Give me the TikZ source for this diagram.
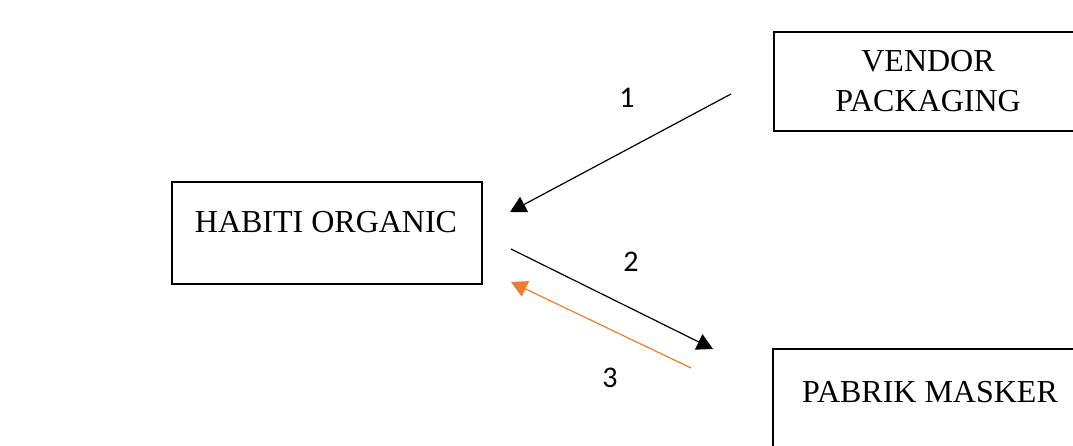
\documentclass[tikz,border=0pt]{standalone}
\usepackage{fontspec}
\setmainfont{Liberation Serif}
\newfontfamily\digitfont{Carlito}
\usetikzlibrary{arrows.meta}
\definecolor{arroworange}{HTML}{ED7D31}
\begin{document}
\begin{tikzpicture}[x=1pt,y=-1pt,
  boxnode/.style={draw=black,line width=2.8pt,fill=white,rectangle,inner sep=0pt},
  boxtext/.style={font=\fontsize{32}{40}\selectfont,inner sep=0pt,anchor=base,align=center},
  numlabel/.style={fill=white,inner sep=0pt,font=\digitfont\fontsize{30}{34}\selectfont},
  flow/.style={line width=1.2pt,-{Triangle[length=16pt,width=17pt]}}]
\useasboundingbox (0,0) rectangle (1073,446);
% boxes
\node[boxnode,minimum width=310pt,minimum height=102pt] (habiti) at (327,233) {};
\node[boxtext] (habititext) at (326,233) {HABITI ORGANIC};
\node[boxnode,minimum width=310pt,minimum height=99pt] (vendor) at (929,81.5) {};
\node[boxtext] (vendortext1) at (928,72) {VENDOR};
\node[boxtext] (vendortext2) at (928,112) {PACKAGING};
\node[boxnode,minimum width=314pt,minimum height=120pt] (pabrik) at (930,409) {};
\node[boxtext] (pabriktext) at (930,402) {PABRIK MASKER};
% number labels
\node[numlabel,minimum width=47pt,minimum height=68pt] (l1) at (620.5,99) {};
\node[numlabel] (n1) at (627,97.5) {1};
\node[numlabel,minimum width=67pt,minimum height=55pt] (l2) at (630.5,258.5) {};
\node[numlabel] (n2) at (631,262) {2};
\node[numlabel,minimum width=47pt,minimum height=67pt] (l3) at (604.5,379.5) {};
\node[numlabel] (n3) at (610,378) {3};
% connector endpoints
\coordinate (a1s) at (731,94);
\coordinate (a1e) at (510,212);
\coordinate (a2s) at (511,249);
\coordinate (a2e) at (713,349);
\coordinate (a3s) at (691,368);
\coordinate (a3e) at (511,282);
\draw[flow] (a1s) -- (a1e);
\draw[flow] (a2s) -- (a2e);
\draw[flow,draw=arroworange,fill=arroworange] (a3s) -- (a3e);
\end{tikzpicture}
\end{document}
